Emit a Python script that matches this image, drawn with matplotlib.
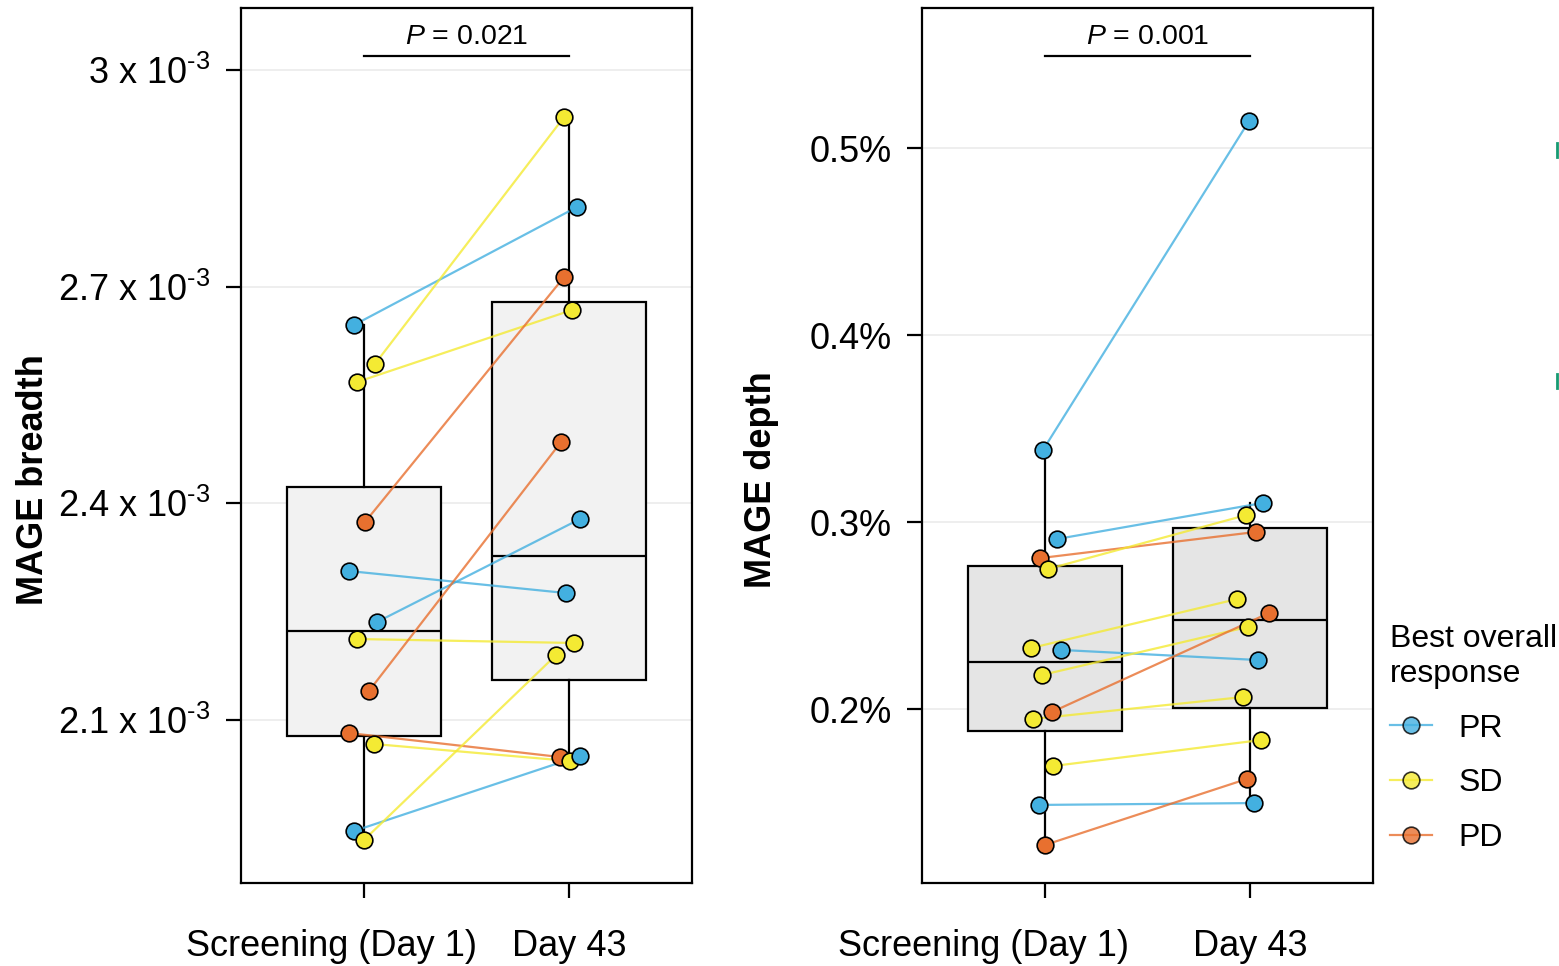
import matplotlib
matplotlib.use("Agg")
import matplotlib.pyplot as plt
import matplotlib.transforms as mtransforms
from matplotlib.lines import Line2D
from matplotlib.ticker import FuncFormatter

plt.rcParams['font.family'] = ['Liberation Sans', 'DejaVu Sans']
plt.rcParams['mathtext.fontset'] = 'custom'
plt.rcParams['mathtext.rm'] = 'Liberation Sans'
plt.rcParams['mathtext.it'] = 'Liberation Sans:italic'

# ---- data ----
timepoints = ['Screening (Day 1)', 'Day 43']
response = ['PR', 'SD', 'SD', 'PD', 'PR', 'PR', 'SD', 'PD', 'PD', 'SD', 'PR', 'SD']
breadth_day1 = [2.6467e-3, 2.5926e-3, 2.5677e-3, 2.3737e-3, 2.3058e-3, 2.2351e-3,
                2.2116e-3, 2.1395e-3, 2.0813e-3, 2.0661e-3, 1.9455e-3, 1.9331e-3]
breadth_day43 = [2.8102e-3, 2.9349e-3, 2.6675e-3, 2.7132e-3, 2.2753e-3, 2.3778e-3,
                 2.2061e-3, 2.4845e-3, 2.0481e-3, 2.0425e-3, 2.0495e-3, 2.1894e-3]
breadth_jit1 = [-0.049, 0.053, -0.034, 0.005, -0.073, 0.063, -0.034, 0.024, -0.073, 0.049, -0.049, 0.0]
breadth_jit43 = [0.039, -0.024, 0.015, -0.024, -0.015, 0.053, 0.024, -0.039, -0.044, 0.005, 0.053, -0.063]

response_d = ['PR', 'PR', 'PD', 'SD', 'SD', 'PR', 'SD', 'PD', 'SD', 'SD', 'PR', 'PD']
depth_day1 = [0.3385, 0.2909, 0.2807, 0.2749, 0.2326, 0.2316, 0.2182, 0.1984, 0.1947, 0.1695, 0.1487, 0.1273]
depth_day43 = [0.5144, 0.3102, 0.2947, 0.3037, 0.2588, 0.2262, 0.2439, 0.2513, 0.2064, 0.1834, 0.1497, 0.1626]
depth_jit1 = [-0.010, 0.058, -0.024, 0.015, -0.068, 0.078, -0.015, 0.034, -0.058, 0.039, -0.029, 0.0]
depth_jit43 = [-0.005, 0.063, 0.029, -0.019, -0.063, 0.039, -0.010, 0.092, -0.034, 0.053, 0.019, -0.015]

p_breadth = 'P = 0.021'
p_depth = 'P = 0.001'
breadth_ticks = [2.1e-3, 2.4e-3, 2.7e-3, 3.0e-3]
depth_ticks = [0.2, 0.3, 0.4, 0.5]

COLORS = {'PR': '#43B0E0', 'SD': '#F4EA33', 'PD': '#E8702F'}
FS = 26


def draw_panel(ax, v1, v2, j1, j2, resp, fill, ptext, label_shift):
    ax.yaxis.grid(True, color='#ebebeb', lw=1.2)
    ax.set_axisbelow(True)
    ax.boxplot([v1, v2], positions=[1, 2], widths=0.75, patch_artist=True,
               showfliers=False, showcaps=False,
               boxprops=dict(facecolor=fill, edgecolor='black', lw=1.6),
               whiskerprops=dict(color='black', lw=1.6),
               medianprops=dict(color='black', lw=1.6), zorder=2)
    for a, b, ja, jb, r in zip(v1, v2, j1, j2, resp):
        ax.plot([1 + ja, 2 + jb], [a, b], color=COLORS[r], lw=1.6, alpha=0.8, zorder=3)
    for a, b, ja, jb, r in zip(v1, v2, j1, j2, resp):
        ax.plot([1 + ja, 2 + jb], [a, b], 'o', ls='none', ms=12, mfc=COLORS[r],
                mec='black', mew=1.2, zorder=4)
    ax.set_xlim(0.4, 2.6)
    ax.set_xticks([1, 2])
    ax.set_xticklabels(timepoints)
    for s in ax.spines.values():
        s.set_linewidth(1.6)
    ax.tick_params(axis='both', length=11, width=1.6, labelsize=FS, pad=11)
    ax.tick_params(axis='x', pad=22)
    # the first category label sits left of its tick in the original
    lbl = ax.get_xticklabels()[0]
    lbl.set_transform(lbl.get_transform() +
                      mtransforms.ScaledTranslation(label_shift / 100, 0, fig.dpi_scale_trans))
    trans = mtransforms.blended_transform_factory(ax.transData, ax.transAxes)
    ax.plot([1, 2], [0.9451, 0.9451], color='black', lw=1.6, transform=trans, clip_on=False)
    ax.text(1.5, 0.952, r'$P$' + ptext[1:], transform=trans, ha='center', va='bottom', fontsize=20.5)


fig = plt.figure(figsize=(15.59, 9.66), dpi=100)
ax1 = fig.add_axes([241 / 1559, 83 / 966, 451 / 1559, 875 / 966])
ax2 = fig.add_axes([922 / 1559, 83 / 966, 451 / 1559, 875 / 966])

draw_panel(ax1, breadth_day1, breadth_day43, breadth_jit1, breadth_jit43, response,
           '#f2f2f2', p_breadth, -33)
ax1.set_ylim(1.8735e-3, 3.086e-3)
ax1.set_yticks(breadth_ticks)
ax1.yaxis.set_major_formatter(FuncFormatter(lambda v, p: f'{v * 1e3:g} x 10$^{{\u2010 3}}$'))
ax1.set_ylabel('MAGE breadth', fontsize=FS, fontweight='bold')
ax1.yaxis.set_label_coords(-0.4213, 0.4606)

draw_panel(ax2, depth_day1, depth_day43, depth_jit1, depth_jit43, response_d,
           '#e5e5e5', p_depth, -61)
ax2.set_ylim(0.10695, 0.5749)
ax2.set_yticks(depth_ticks)
ax2.yaxis.set_major_formatter(FuncFormatter(lambda v, p: f'{v:.1f}%'))
ax2.set_ylabel('MAGE depth', fontsize=FS, fontweight='bold')
ax2.yaxis.set_label_coords(-0.3170, 0.4606)

handles = [Line2D([0], [0], color=COLORS[k], lw=1.6, alpha=0.8, marker='o', ms=12,
                  mfc=COLORS[k], mec='black', mew=1.2) for k in ['PR', 'SD', 'PD']]
leg = ax2.legend(handles, ['PR', 'SD', 'PD'], title='Best overall\nresponse',
                 loc='upper left', bbox_to_anchor=(1390 / 1559, 1 - 624 / 966),
                 bbox_transform=fig.transFigure, frameon=False, fontsize=23,
                 title_fontsize=23, handlelength=1.3, handletextpad=0.85,
                 labelspacing=0.78, borderpad=0, borderaxespad=0, alignment='left')

# clipped marks of the neighbouring panel at the right edge
for y0, y1 in [(143, 157), (374, 388)]:
    fig.add_artist(Line2D([1557 / 1559, 1557 / 1559], [1 - y0 / 966, 1 - y1 / 966],
                          color='#169b72', lw=2))

fig.savefig('out.png', dpi=100)
